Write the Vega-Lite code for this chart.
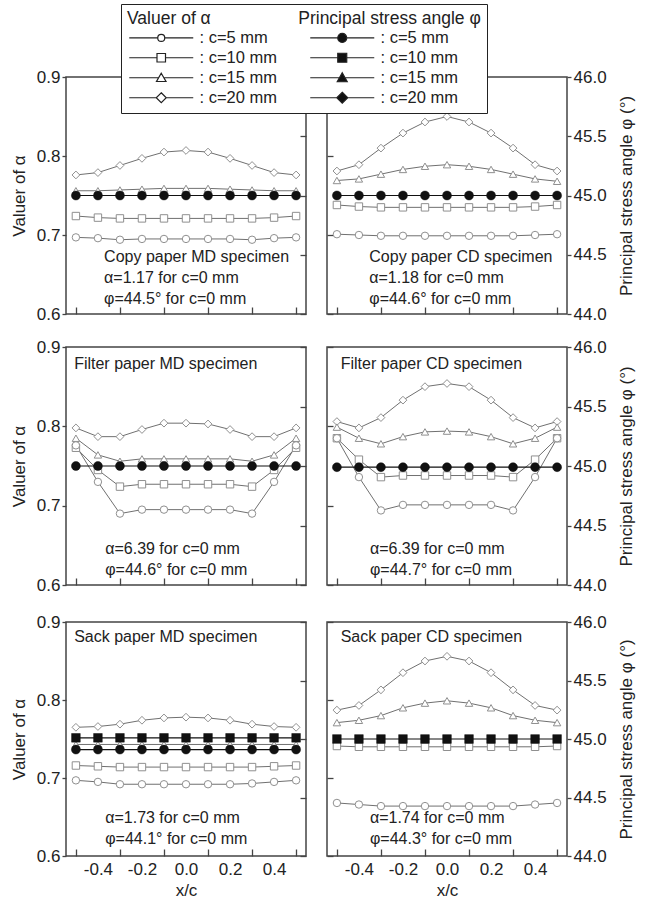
{
"$schema":"https://vega.github.io/schema/vega-lite/v6.json",
"background":"white",
"padding":{"left":9,"top":3,"right":5,"bottom":5},
"config":{
 "font":"Liberation Sans",
 "view":{"stroke":"#444","strokeWidth":1.5},
 "axis":{"grid":false,"domain":false,"tickColor":"#444","tickWidth":1.3,"labelFont":"Liberation Sans","labelFontSize":17,"labelColor":"#222","titleFont":"Liberation Sans","titleFontSize":17,"titleFontWeight":"normal","titleColor":"#222","labelOverlap":false,"labelFlush":false}
},
"data":{"values":[
{"p":"CM","s":"a20","x":-0.5,"v":0.776},{"p":"CM","s":"a20","x":-0.4,"v":0.779},{"p":"CM","s":"a20","x":-0.3,"v":0.788},{"p":"CM","s":"a20","x":-0.2,"v":0.797},{"p":"CM","s":"a20","x":-0.1,"v":0.805},{"p":"CM","s":"a20","x":0,"v":0.807},{"p":"CM","s":"a20","x":0.1,"v":0.805},{"p":"CM","s":"a20","x":0.2,"v":0.797},{"p":"CM","s":"a20","x":0.3,"v":0.788},{"p":"CM","s":"a20","x":0.4,"v":0.779},{"p":"CM","s":"a20","x":0.5,"v":0.776},
{"p":"CM","s":"a15","x":-0.5,"v":0.756},{"p":"CM","s":"a15","x":-0.4,"v":0.756},{"p":"CM","s":"a15","x":-0.3,"v":0.757},{"p":"CM","s":"a15","x":-0.2,"v":0.758},{"p":"CM","s":"a15","x":-0.1,"v":0.759},{"p":"CM","s":"a15","x":0,"v":0.759},{"p":"CM","s":"a15","x":0.1,"v":0.759},{"p":"CM","s":"a15","x":0.2,"v":0.758},{"p":"CM","s":"a15","x":0.3,"v":0.757},{"p":"CM","s":"a15","x":0.4,"v":0.756},{"p":"CM","s":"a15","x":0.5,"v":0.756},
{"p":"CM","s":"a10","x":-0.5,"v":0.724},{"p":"CM","s":"a10","x":-0.4,"v":0.722},{"p":"CM","s":"a10","x":-0.3,"v":0.721},{"p":"CM","s":"a10","x":-0.2,"v":0.721},{"p":"CM","s":"a10","x":-0.1,"v":0.721},{"p":"CM","s":"a10","x":0,"v":0.721},{"p":"CM","s":"a10","x":0.1,"v":0.721},{"p":"CM","s":"a10","x":0.2,"v":0.721},{"p":"CM","s":"a10","x":0.3,"v":0.721},{"p":"CM","s":"a10","x":0.4,"v":0.722},{"p":"CM","s":"a10","x":0.5,"v":0.724},
{"p":"CM","s":"a5","x":-0.5,"v":0.697},{"p":"CM","s":"a5","x":-0.4,"v":0.696},{"p":"CM","s":"a5","x":-0.3,"v":0.694},{"p":"CM","s":"a5","x":-0.2,"v":0.695},{"p":"CM","s":"a5","x":-0.1,"v":0.695},{"p":"CM","s":"a5","x":0,"v":0.695},{"p":"CM","s":"a5","x":0.1,"v":0.695},{"p":"CM","s":"a5","x":0.2,"v":0.695},{"p":"CM","s":"a5","x":0.3,"v":0.694},{"p":"CM","s":"a5","x":0.4,"v":0.696},{"p":"CM","s":"a5","x":0.5,"v":0.697},
{"p":"CM","s":"p5","x":-0.5,"v":45},{"p":"CM","s":"p5","x":-0.4,"v":45},{"p":"CM","s":"p5","x":-0.3,"v":45},{"p":"CM","s":"p5","x":-0.2,"v":45},{"p":"CM","s":"p5","x":-0.1,"v":45},{"p":"CM","s":"p5","x":0,"v":45},{"p":"CM","s":"p5","x":0.1,"v":45},{"p":"CM","s":"p5","x":0.2,"v":45},{"p":"CM","s":"p5","x":0.3,"v":45},{"p":"CM","s":"p5","x":0.4,"v":45},{"p":"CM","s":"p5","x":0.5,"v":45},
{"p":"CC","s":"a20","x":-0.5,"v":0.781},{"p":"CC","s":"a20","x":-0.4,"v":0.789},{"p":"CC","s":"a20","x":-0.3,"v":0.810},{"p":"CC","s":"a20","x":-0.2,"v":0.829},{"p":"CC","s":"a20","x":-0.1,"v":0.843},{"p":"CC","s":"a20","x":0,"v":0.850},{"p":"CC","s":"a20","x":0.1,"v":0.843},{"p":"CC","s":"a20","x":0.2,"v":0.829},{"p":"CC","s":"a20","x":0.3,"v":0.810},{"p":"CC","s":"a20","x":0.4,"v":0.789},{"p":"CC","s":"a20","x":0.5,"v":0.781},
{"p":"CC","s":"a15","x":-0.5,"v":0.769},{"p":"CC","s":"a15","x":-0.4,"v":0.771},{"p":"CC","s":"a15","x":-0.3,"v":0.777},{"p":"CC","s":"a15","x":-0.2,"v":0.783},{"p":"CC","s":"a15","x":-0.1,"v":0.787},{"p":"CC","s":"a15","x":0,"v":0.789},{"p":"CC","s":"a15","x":0.1,"v":0.787},{"p":"CC","s":"a15","x":0.2,"v":0.783},{"p":"CC","s":"a15","x":0.3,"v":0.777},{"p":"CC","s":"a15","x":0.4,"v":0.771},{"p":"CC","s":"a15","x":0.5,"v":0.768},
{"p":"CC","s":"a10","x":-0.5,"v":0.738},{"p":"CC","s":"a10","x":-0.4,"v":0.736},{"p":"CC","s":"a10","x":-0.3,"v":0.735},{"p":"CC","s":"a10","x":-0.2,"v":0.735},{"p":"CC","s":"a10","x":-0.1,"v":0.735},{"p":"CC","s":"a10","x":0,"v":0.735},{"p":"CC","s":"a10","x":0.1,"v":0.735},{"p":"CC","s":"a10","x":0.2,"v":0.735},{"p":"CC","s":"a10","x":0.3,"v":0.735},{"p":"CC","s":"a10","x":0.4,"v":0.736},{"p":"CC","s":"a10","x":0.5,"v":0.738},
{"p":"CC","s":"a5","x":-0.5,"v":0.701},{"p":"CC","s":"a5","x":-0.4,"v":0.700},{"p":"CC","s":"a5","x":-0.3,"v":0.699},{"p":"CC","s":"a5","x":-0.2,"v":0.699},{"p":"CC","s":"a5","x":-0.1,"v":0.699},{"p":"CC","s":"a5","x":0,"v":0.699},{"p":"CC","s":"a5","x":0.1,"v":0.699},{"p":"CC","s":"a5","x":0.2,"v":0.699},{"p":"CC","s":"a5","x":0.3,"v":0.699},{"p":"CC","s":"a5","x":0.4,"v":0.700},{"p":"CC","s":"a5","x":0.5,"v":0.701},
{"p":"CC","s":"p5","x":-0.5,"v":45},{"p":"CC","s":"p5","x":-0.4,"v":45},{"p":"CC","s":"p5","x":-0.3,"v":45},{"p":"CC","s":"p5","x":-0.2,"v":45},{"p":"CC","s":"p5","x":-0.1,"v":45},{"p":"CC","s":"p5","x":0,"v":45},{"p":"CC","s":"p5","x":0.1,"v":45},{"p":"CC","s":"p5","x":0.2,"v":45},{"p":"CC","s":"p5","x":0.3,"v":45},{"p":"CC","s":"p5","x":0.4,"v":45},{"p":"CC","s":"p5","x":0.5,"v":45},
{"p":"FM","s":"a20","x":-0.5,"v":0.798},{"p":"FM","s":"a20","x":-0.4,"v":0.787},{"p":"FM","s":"a20","x":-0.3,"v":0.787},{"p":"FM","s":"a20","x":-0.2,"v":0.796},{"p":"FM","s":"a20","x":-0.1,"v":0.804},{"p":"FM","s":"a20","x":0,"v":0.804},{"p":"FM","s":"a20","x":0.1,"v":0.803},{"p":"FM","s":"a20","x":0.2,"v":0.796},{"p":"FM","s":"a20","x":0.3,"v":0.787},{"p":"FM","s":"a20","x":0.4,"v":0.787},{"p":"FM","s":"a20","x":0.5,"v":0.798},
{"p":"FM","s":"a15","x":-0.5,"v":0.785},{"p":"FM","s":"a15","x":-0.4,"v":0.764},{"p":"FM","s":"a15","x":-0.3,"v":0.756},{"p":"FM","s":"a15","x":-0.2,"v":0.759},{"p":"FM","s":"a15","x":-0.1,"v":0.759},{"p":"FM","s":"a15","x":0,"v":0.759},{"p":"FM","s":"a15","x":0.1,"v":0.759},{"p":"FM","s":"a15","x":0.2,"v":0.759},{"p":"FM","s":"a15","x":0.3,"v":0.756},{"p":"FM","s":"a15","x":0.4,"v":0.764},{"p":"FM","s":"a15","x":0.5,"v":0.785},
{"p":"FM","s":"a10","x":-0.5,"v":0.773},{"p":"FM","s":"a10","x":-0.4,"v":0.745},{"p":"FM","s":"a10","x":-0.3,"v":0.724},{"p":"FM","s":"a10","x":-0.2,"v":0.727},{"p":"FM","s":"a10","x":-0.1,"v":0.727},{"p":"FM","s":"a10","x":0,"v":0.727},{"p":"FM","s":"a10","x":0.1,"v":0.727},{"p":"FM","s":"a10","x":0.2,"v":0.727},{"p":"FM","s":"a10","x":0.3,"v":0.724},{"p":"FM","s":"a10","x":0.4,"v":0.745},{"p":"FM","s":"a10","x":0.5,"v":0.773},
{"p":"FM","s":"a5","x":-0.5,"v":0.776},{"p":"FM","s":"a5","x":-0.4,"v":0.730},{"p":"FM","s":"a5","x":-0.3,"v":0.690},{"p":"FM","s":"a5","x":-0.2,"v":0.695},{"p":"FM","s":"a5","x":-0.1,"v":0.695},{"p":"FM","s":"a5","x":0,"v":0.695},{"p":"FM","s":"a5","x":0.1,"v":0.695},{"p":"FM","s":"a5","x":0.2,"v":0.695},{"p":"FM","s":"a5","x":0.3,"v":0.690},{"p":"FM","s":"a5","x":0.4,"v":0.730},{"p":"FM","s":"a5","x":0.5,"v":0.776},
{"p":"FM","s":"p5","x":-0.5,"v":45},{"p":"FM","s":"p5","x":-0.4,"v":45},{"p":"FM","s":"p5","x":-0.3,"v":45},{"p":"FM","s":"p5","x":-0.2,"v":45},{"p":"FM","s":"p5","x":-0.1,"v":45},{"p":"FM","s":"p5","x":0,"v":45},{"p":"FM","s":"p5","x":0.1,"v":45},{"p":"FM","s":"p5","x":0.2,"v":45},{"p":"FM","s":"p5","x":0.3,"v":45},{"p":"FM","s":"p5","x":0.4,"v":45},{"p":"FM","s":"p5","x":0.5,"v":45},
{"p":"FC","s":"a20","x":-0.5,"v":0.806},{"p":"FC","s":"a20","x":-0.4,"v":0.798},{"p":"FC","s":"a20","x":-0.3,"v":0.811},{"p":"FC","s":"a20","x":-0.2,"v":0.833},{"p":"FC","s":"a20","x":-0.1,"v":0.850},{"p":"FC","s":"a20","x":0,"v":0.854},{"p":"FC","s":"a20","x":0.1,"v":0.850},{"p":"FC","s":"a20","x":0.2,"v":0.833},{"p":"FC","s":"a20","x":0.3,"v":0.811},{"p":"FC","s":"a20","x":0.4,"v":0.798},{"p":"FC","s":"a20","x":0.5,"v":0.806},
{"p":"FC","s":"a15","x":-0.5,"v":0.799},{"p":"FC","s":"a15","x":-0.4,"v":0.785},{"p":"FC","s":"a15","x":-0.3,"v":0.778},{"p":"FC","s":"a15","x":-0.2,"v":0.787},{"p":"FC","s":"a15","x":-0.1,"v":0.793},{"p":"FC","s":"a15","x":0,"v":0.794},{"p":"FC","s":"a15","x":0.1,"v":0.793},{"p":"FC","s":"a15","x":0.2,"v":0.787},{"p":"FC","s":"a15","x":0.3,"v":0.778},{"p":"FC","s":"a15","x":0.4,"v":0.785},{"p":"FC","s":"a15","x":0.5,"v":0.799},
{"p":"FC","s":"a10","x":-0.5,"v":0.785},{"p":"FC","s":"a10","x":-0.4,"v":0.758},{"p":"FC","s":"a10","x":-0.3,"v":0.736},{"p":"FC","s":"a10","x":-0.2,"v":0.738},{"p":"FC","s":"a10","x":-0.1,"v":0.738},{"p":"FC","s":"a10","x":0,"v":0.738},{"p":"FC","s":"a10","x":0.1,"v":0.738},{"p":"FC","s":"a10","x":0.2,"v":0.738},{"p":"FC","s":"a10","x":0.3,"v":0.736},{"p":"FC","s":"a10","x":0.4,"v":0.758},{"p":"FC","s":"a10","x":0.5,"v":0.785},
{"p":"FC","s":"a5","x":-0.5,"v":0.785},{"p":"FC","s":"a5","x":-0.4,"v":0.736},{"p":"FC","s":"a5","x":-0.3,"v":0.694},{"p":"FC","s":"a5","x":-0.2,"v":0.701},{"p":"FC","s":"a5","x":-0.1,"v":0.701},{"p":"FC","s":"a5","x":0,"v":0.701},{"p":"FC","s":"a5","x":0.1,"v":0.701},{"p":"FC","s":"a5","x":0.2,"v":0.701},{"p":"FC","s":"a5","x":0.3,"v":0.694},{"p":"FC","s":"a5","x":0.4,"v":0.736},{"p":"FC","s":"a5","x":0.5,"v":0.785},
{"p":"FC","s":"p5","x":-0.5,"v":44.99},{"p":"FC","s":"p5","x":-0.4,"v":44.99},{"p":"FC","s":"p5","x":-0.3,"v":44.99},{"p":"FC","s":"p5","x":-0.2,"v":44.99},{"p":"FC","s":"p5","x":-0.1,"v":44.99},{"p":"FC","s":"p5","x":0,"v":44.99},{"p":"FC","s":"p5","x":0.1,"v":44.99},{"p":"FC","s":"p5","x":0.2,"v":44.99},{"p":"FC","s":"p5","x":0.3,"v":44.99},{"p":"FC","s":"p5","x":0.4,"v":44.99},{"p":"FC","s":"p5","x":0.5,"v":44.99},
{"p":"SM","s":"a20","x":-0.5,"v":0.765},{"p":"SM","s":"a20","x":-0.4,"v":0.766},{"p":"SM","s":"a20","x":-0.3,"v":0.769},{"p":"SM","s":"a20","x":-0.2,"v":0.774},{"p":"SM","s":"a20","x":-0.1,"v":0.777},{"p":"SM","s":"a20","x":0,"v":0.778},{"p":"SM","s":"a20","x":0.1,"v":0.777},{"p":"SM","s":"a20","x":0.2,"v":0.774},{"p":"SM","s":"a20","x":0.3,"v":0.769},{"p":"SM","s":"a20","x":0.4,"v":0.766},{"p":"SM","s":"a20","x":0.5,"v":0.765},
{"p":"SM","s":"a15","x":-0.5,"v":0.743},{"p":"SM","s":"a15","x":-0.4,"v":0.743},{"p":"SM","s":"a15","x":-0.3,"v":0.743},{"p":"SM","s":"a15","x":-0.2,"v":0.743},{"p":"SM","s":"a15","x":-0.1,"v":0.743},{"p":"SM","s":"a15","x":0,"v":0.743},{"p":"SM","s":"a15","x":0.1,"v":0.743},{"p":"SM","s":"a15","x":0.2,"v":0.743},{"p":"SM","s":"a15","x":0.3,"v":0.743},{"p":"SM","s":"a15","x":0.4,"v":0.743},{"p":"SM","s":"a15","x":0.5,"v":0.743},
{"p":"SM","s":"a10","x":-0.5,"v":0.716},{"p":"SM","s":"a10","x":-0.4,"v":0.715},{"p":"SM","s":"a10","x":-0.3,"v":0.714},{"p":"SM","s":"a10","x":-0.2,"v":0.714},{"p":"SM","s":"a10","x":-0.1,"v":0.714},{"p":"SM","s":"a10","x":0,"v":0.714},{"p":"SM","s":"a10","x":0.1,"v":0.714},{"p":"SM","s":"a10","x":0.2,"v":0.714},{"p":"SM","s":"a10","x":0.3,"v":0.714},{"p":"SM","s":"a10","x":0.4,"v":0.715},{"p":"SM","s":"a10","x":0.5,"v":0.716},
{"p":"SM","s":"a5","x":-0.5,"v":0.697},{"p":"SM","s":"a5","x":-0.4,"v":0.695},{"p":"SM","s":"a5","x":-0.3,"v":0.692},{"p":"SM","s":"a5","x":-0.2,"v":0.692},{"p":"SM","s":"a5","x":-0.1,"v":0.692},{"p":"SM","s":"a5","x":0,"v":0.692},{"p":"SM","s":"a5","x":0.1,"v":0.692},{"p":"SM","s":"a5","x":0.2,"v":0.692},{"p":"SM","s":"a5","x":0.3,"v":0.693},{"p":"SM","s":"a5","x":0.4,"v":0.695},{"p":"SM","s":"a5","x":0.5,"v":0.697},
{"p":"SM","s":"p10","x":-0.5,"v":45.01},{"p":"SM","s":"p10","x":-0.4,"v":45.01},{"p":"SM","s":"p10","x":-0.3,"v":45.01},{"p":"SM","s":"p10","x":-0.2,"v":45.01},{"p":"SM","s":"p10","x":-0.1,"v":45.01},{"p":"SM","s":"p10","x":0,"v":45.01},{"p":"SM","s":"p10","x":0.1,"v":45.01},{"p":"SM","s":"p10","x":0.2,"v":45.01},{"p":"SM","s":"p10","x":0.3,"v":45.01},{"p":"SM","s":"p10","x":0.4,"v":45.01},{"p":"SM","s":"p10","x":0.5,"v":45.01},
{"p":"SM","s":"p5","x":-0.5,"v":44.91},{"p":"SM","s":"p5","x":-0.4,"v":44.91},{"p":"SM","s":"p5","x":-0.3,"v":44.91},{"p":"SM","s":"p5","x":-0.2,"v":44.91},{"p":"SM","s":"p5","x":-0.1,"v":44.91},{"p":"SM","s":"p5","x":0,"v":44.91},{"p":"SM","s":"p5","x":0.1,"v":44.91},{"p":"SM","s":"p5","x":0.2,"v":44.91},{"p":"SM","s":"p5","x":0.3,"v":44.91},{"p":"SM","s":"p5","x":0.4,"v":44.91},{"p":"SM","s":"p5","x":0.5,"v":44.91},
{"p":"SC","s":"a20","x":-0.5,"v":0.787},{"p":"SC","s":"a20","x":-0.4,"v":0.793},{"p":"SC","s":"a20","x":-0.3,"v":0.813},{"p":"SC","s":"a20","x":-0.2,"v":0.835},{"p":"SC","s":"a20","x":-0.1,"v":0.850},{"p":"SC","s":"a20","x":0,"v":0.856},{"p":"SC","s":"a20","x":0.1,"v":0.850},{"p":"SC","s":"a20","x":0.2,"v":0.835},{"p":"SC","s":"a20","x":0.3,"v":0.813},{"p":"SC","s":"a20","x":0.4,"v":0.793},{"p":"SC","s":"a20","x":0.5,"v":0.787},
{"p":"SC","s":"a15","x":-0.5,"v":0.771},{"p":"SC","s":"a15","x":-0.4,"v":0.774},{"p":"SC","s":"a15","x":-0.3,"v":0.780},{"p":"SC","s":"a15","x":-0.2,"v":0.790},{"p":"SC","s":"a15","x":-0.1,"v":0.796},{"p":"SC","s":"a15","x":0,"v":0.799},{"p":"SC","s":"a15","x":0.1,"v":0.796},{"p":"SC","s":"a15","x":0.2,"v":0.790},{"p":"SC","s":"a15","x":0.3,"v":0.780},{"p":"SC","s":"a15","x":0.4,"v":0.774},{"p":"SC","s":"a15","x":0.5,"v":0.771},
{"p":"SC","s":"a10","x":-0.5,"v":0.741},{"p":"SC","s":"a10","x":-0.4,"v":0.740},{"p":"SC","s":"a10","x":-0.3,"v":0.740},{"p":"SC","s":"a10","x":-0.2,"v":0.740},{"p":"SC","s":"a10","x":-0.1,"v":0.740},{"p":"SC","s":"a10","x":0,"v":0.740},{"p":"SC","s":"a10","x":0.1,"v":0.740},{"p":"SC","s":"a10","x":0.2,"v":0.740},{"p":"SC","s":"a10","x":0.3,"v":0.740},{"p":"SC","s":"a10","x":0.4,"v":0.740},{"p":"SC","s":"a10","x":0.5,"v":0.741},
{"p":"SC","s":"a5","x":-0.5,"v":0.668},{"p":"SC","s":"a5","x":-0.4,"v":0.666},{"p":"SC","s":"a5","x":-0.3,"v":0.664},{"p":"SC","s":"a5","x":-0.2,"v":0.664},{"p":"SC","s":"a5","x":-0.1,"v":0.664},{"p":"SC","s":"a5","x":0,"v":0.664},{"p":"SC","s":"a5","x":0.1,"v":0.664},{"p":"SC","s":"a5","x":0.2,"v":0.664},{"p":"SC","s":"a5","x":0.3,"v":0.664},{"p":"SC","s":"a5","x":0.4,"v":0.666},{"p":"SC","s":"a5","x":0.5,"v":0.668},
{"p":"SC","s":"p10","x":-0.5,"v":45},{"p":"SC","s":"p10","x":-0.4,"v":45},{"p":"SC","s":"p10","x":-0.3,"v":45},{"p":"SC","s":"p10","x":-0.2,"v":45},{"p":"SC","s":"p10","x":-0.1,"v":45},{"p":"SC","s":"p10","x":0,"v":45},{"p":"SC","s":"p10","x":0.1,"v":45},{"p":"SC","s":"p10","x":0.2,"v":45},{"p":"SC","s":"p10","x":0.3,"v":45},{"p":"SC","s":"p10","x":0.4,"v":45},{"p":"SC","s":"p10","x":0.5,"v":45}
]},
"spacing":14,
"vconcat":[
{"spacing":17,"hconcat":[
 {"width":240,"height":237,"resolve":{"scale":{"y":"independent"}},"layer":[
  {"layer":[
    {"transform":[{"filter":"datum.p=='CM' && substring(datum.s,0,1)=='a'"}],"mark":{"type":"line","stroke":"#707070","strokeWidth":1},
     "encoding":{"x":{"field":"x","type":"quantitative","scale":{"domain":[-0.545,0.545],"nice":false,"zero":false},"axis":{"values":[-0.5,-0.4,-0.3,-0.2,-0.1,0,0.1,0.2,0.3,0.4,0.5],"labels":false,"tickSize":-7,"title":null,"minExtent":0}},
      "y":{"field":"v","type":"quantitative","scale":{"domain":[0.6,0.9],"nice":false,"zero":false},"axis":{"orient":"left","values":[0.6,0.7,0.8,0.9],"format":".1f","tickSize":4,"labelPadding":2,"title":"Valuer of α","titlePadding":8}},
      "detail":{"field":"s","type":"nominal"}}},
    {"transform":[{"filter":"datum.p=='CM' && datum.s=='a20'"}],"mark":{"type":"point","shape":"diamond","filled":true,"fill":"white","stroke":"#8f8f8f","strokeWidth":1,"size":60,"opacity":1},"encoding":{"x":{"field":"x","type":"quantitative"},"y":{"field":"v","type":"quantitative","scale":{"domain":[0.6,0.9],"nice":false,"zero":false}}}},
    {"transform":[{"filter":"datum.p=='CM' && datum.s=='a15'"}],"mark":{"type":"point","shape":"triangle-up","filled":true,"fill":"white","stroke":"#8f8f8f","strokeWidth":1,"size":55,"opacity":1},"encoding":{"x":{"field":"x","type":"quantitative"},"y":{"field":"v","type":"quantitative","scale":{"domain":[0.6,0.9],"nice":false,"zero":false}}}},
    {"transform":[{"filter":"datum.p=='CM' && datum.s=='a10'"}],"mark":{"type":"point","shape":"square","filled":true,"fill":"white","stroke":"#8f8f8f","strokeWidth":1,"size":55,"opacity":1},"encoding":{"x":{"field":"x","type":"quantitative"},"y":{"field":"v","type":"quantitative","scale":{"domain":[0.6,0.9],"nice":false,"zero":false}}}},
    {"transform":[{"filter":"datum.p=='CM' && datum.s=='a5'"}],"mark":{"type":"point","shape":"circle","filled":true,"fill":"white","stroke":"#8f8f8f","strokeWidth":1,"size":55,"opacity":1},"encoding":{"x":{"field":"x","type":"quantitative"},"y":{"field":"v","type":"quantitative","scale":{"domain":[0.6,0.9],"nice":false,"zero":false}}}},
    {"transform":[{"filter":"datum.p=='none'"}],"mark":{"type":"point","filled":true,"stroke":"#222","strokeWidth":1.2,"size":100,"opacity":1},
     "encoding":{
      "shape":{"field":"s","type":"nominal","scale":{"domain":["a5","a10","a15","a20","p5","p10","p15","p20"],"range":[
        "M-6.4,0L-0.7,0M0.7,0L6.4,0M-0.7,0A0.7,0.7,0,1,1,0.7,0A0.7,0.7,0,1,1,-0.7,0Z",
        "M-6.4,0L-0.85,0M0.85,0L6.4,0M-0.85,-0.85L0.85,-0.85L0.85,0.85L-0.85,0.85Z",
        "M-6.4,0L-0.52,0M0.52,0L6.4,0M0,-0.9L0.95,0.75L-0.95,0.75Z",
        "M-6.4,0L-1,0M1,0L6.4,0M0,-1L1,0L0,1L-1,0Z",
        "M-6.4,0L-0.9,0M0.9,0L6.4,0M-0.9,0A0.9,0.9,0,1,1,0.9,0A0.9,0.9,0,1,1,-0.9,0Z",
        "M-6.4,0L-0.9,0M0.9,0L6.4,0M-0.9,-0.9L0.9,-0.9L0.9,0.9L-0.9,0.9Z",
        "M-6.4,0L-0.55,0M0.55,0L6.4,0M0,-1L1,0.8L-1,0.8Z",
        "M-6.4,0L-1.1,0M1.1,0L6.4,0M0,-1.1L1.1,0L0,1.1L-1.1,0Z"]},
       "legend":{"orient":"none","legendX":55,"legendY":-73,"columns":2,
        "title":"Valuer of α\u00a0\u00a0\u00a0\u00a0\u00a0\u00a0\u00a0\u00a0\u00a0\u00a0\u00a0\u00a0\u00a0\u00a0\u00a0\u00a0\u00a0\u00a0Principal stress angle φ","titleLimit":600,
        "titleFont":"Liberation Sans","titleFontSize":17.5,"titleFontWeight":"normal","titleColor":"#222","titlePadding":2,
        "labelFont":"Liberation Sans","labelFontSize":16.5,"labelColor":"#222","labelExpr":"': c=' + substring(datum.label,1) + ' mm'",
        "symbolSize":100,"symbolStrokeColor":"#222","symbolStrokeWidth":1.2,"symbolOpacity":1,"symbolOffset":26,"labelOffset":30,"columnPadding":30,"rowPadding":3,"padding":6,"strokeColor":"#222","fillColor":"white"}},
      "fill":{"field":"s","type":"nominal","scale":{"domain":["a5","a10","a15","a20","p5","p10","p15","p20"],"range":["white","white","white","white","#111","#111","#111","#111"]},"legend":null},
      "stroke":{"field":"s","type":"nominal","scale":{"domain":["a5","a10","a15","a20","p5","p10","p15","p20"],"range":["#222","#222","#222","#222","#222","#222","#222","#222"]},"legend":null}}},
    {"data":{"values":[{}]},"mark":{"type":"text","align":"left","baseline":"alphabetic","font":"Liberation Sans","fontSize":16,"lineHeight":21,"color":"#222"},"encoding":{"x":{"datum":-0.372,"type":"quantitative"},"y":{"datum":0.666,"type":"quantitative"},"text":{"value":["Copy paper MD specimen","α=1.17 for c=0 mm","φ=44.5° for c=0 mm"]}}}
  ]},
  {"layer":[
    {"transform":[{"filter":"datum.p=='CM' && substring(datum.s,0,1)=='p'"}],"mark":{"type":"line","stroke":"#111","strokeWidth":1.2},
     "encoding":{"x":{"field":"x","type":"quantitative"},
      "y":{"field":"v","type":"quantitative","scale":{"domain":[44,46],"nice":false,"zero":false},"axis":{"orient":"right","values":[44,44.5,45,45.5,46],"labels":false,"tickSize":-6,"title":null,"minExtent":0}},
      "detail":{"field":"s","type":"nominal"}}},
    {"transform":[{"filter":"datum.p=='CM' && datum.s=='p5'"}],"mark":{"type":"point","shape":"circle","filled":true,"fill":"#111","stroke":"#111","strokeWidth":0.5,"size":80,"opacity":1},"encoding":{"x":{"field":"x","type":"quantitative"},"y":{"field":"v","type":"quantitative","scale":{"domain":[44,46],"nice":false,"zero":false}}}}
  ]}
 ]},
 {"width":240,"height":237,"resolve":{"scale":{"y":"independent"}},"layer":[
  {"layer":[
    {"transform":[{"filter":"datum.p=='CC' && substring(datum.s,0,1)=='a'"}],"mark":{"type":"line","stroke":"#707070","strokeWidth":1},
     "encoding":{"x":{"field":"x","type":"quantitative","scale":{"domain":[-0.545,0.545],"nice":false,"zero":false},"axis":{"values":[-0.5,-0.4,-0.3,-0.2,-0.1,0,0.1,0.2,0.3,0.4,0.5],"labels":false,"tickSize":-7,"title":null,"minExtent":0}},
      "y":{"field":"v","type":"quantitative","scale":{"domain":[0.6,0.9],"nice":false,"zero":false},"axis":{"orient":"left","values":[0.6,0.7,0.8,0.9],"labels":false,"tickSize":-6,"title":null,"minExtent":0}},
      "detail":{"field":"s","type":"nominal"}}},
    {"transform":[{"filter":"datum.p=='CC' && datum.s=='a20'"}],"mark":{"type":"point","shape":"diamond","filled":true,"fill":"white","stroke":"#8f8f8f","strokeWidth":1,"size":60,"opacity":1},"encoding":{"x":{"field":"x","type":"quantitative"},"y":{"field":"v","type":"quantitative","scale":{"domain":[0.6,0.9],"nice":false,"zero":false}}}},
    {"transform":[{"filter":"datum.p=='CC' && datum.s=='a15'"}],"mark":{"type":"point","shape":"triangle-up","filled":true,"fill":"white","stroke":"#8f8f8f","strokeWidth":1,"size":55,"opacity":1},"encoding":{"x":{"field":"x","type":"quantitative"},"y":{"field":"v","type":"quantitative","scale":{"domain":[0.6,0.9],"nice":false,"zero":false}}}},
    {"transform":[{"filter":"datum.p=='CC' && datum.s=='a10'"}],"mark":{"type":"point","shape":"square","filled":true,"fill":"white","stroke":"#8f8f8f","strokeWidth":1,"size":55,"opacity":1},"encoding":{"x":{"field":"x","type":"quantitative"},"y":{"field":"v","type":"quantitative","scale":{"domain":[0.6,0.9],"nice":false,"zero":false}}}},
    {"transform":[{"filter":"datum.p=='CC' && datum.s=='a5'"}],"mark":{"type":"point","shape":"circle","filled":true,"fill":"white","stroke":"#8f8f8f","strokeWidth":1,"size":55,"opacity":1},"encoding":{"x":{"field":"x","type":"quantitative"},"y":{"field":"v","type":"quantitative","scale":{"domain":[0.6,0.9],"nice":false,"zero":false}}}},
    {"data":{"values":[{}]},"mark":{"type":"text","align":"left","baseline":"alphabetic","font":"Liberation Sans","fontSize":16,"lineHeight":21,"color":"#222"},"encoding":{"x":{"datum":-0.353,"type":"quantitative"},"y":{"datum":0.666,"type":"quantitative"},"text":{"value":["Copy paper CD specimen","α=1.18 for c=0 mm","φ=44.6° for c=0 mm"]}}}
  ]},
  {"layer":[
    {"transform":[{"filter":"datum.p=='CC' && substring(datum.s,0,1)=='p'"}],"mark":{"type":"line","stroke":"#111","strokeWidth":1.2},
     "encoding":{"x":{"field":"x","type":"quantitative"},
      "y":{"field":"v","type":"quantitative","scale":{"domain":[44,46],"nice":false,"zero":false},"axis":{"orient":"right","values":[44,44.5,45,45.5,46],"format":".1f","tickSize":4,"labelPadding":2,"title":"Principal stress angle φ (°)","titleAngle":270,"titleBaseline":"top","titlePadding":12}},
      "detail":{"field":"s","type":"nominal"}}},
    {"transform":[{"filter":"datum.p=='CC' && datum.s=='p5'"}],"mark":{"type":"point","shape":"circle","filled":true,"fill":"#111","stroke":"#111","strokeWidth":0.5,"size":80,"opacity":1},"encoding":{"x":{"field":"x","type":"quantitative"},"y":{"field":"v","type":"quantitative","scale":{"domain":[44,46],"nice":false,"zero":false}}}}
  ]}
 ]}
]},
{"spacing":18,"vconcat":[
{"spacing":17,"hconcat":[
 {"width":240,"height":238,"resolve":{"scale":{"y":"independent"}},"layer":[
  {"layer":[
    {"transform":[{"filter":"datum.p=='FM' && substring(datum.s,0,1)=='a'"}],"mark":{"type":"line","stroke":"#707070","strokeWidth":1},
     "encoding":{"x":{"field":"x","type":"quantitative","scale":{"domain":[-0.545,0.545],"nice":false,"zero":false},"axis":{"values":[-0.5,-0.4,-0.3,-0.2,-0.1,0,0.1,0.2,0.3,0.4,0.5],"labels":false,"tickSize":-7,"title":null,"minExtent":0}},
      "y":{"field":"v","type":"quantitative","scale":{"domain":[0.6,0.9],"nice":false,"zero":false},"axis":{"orient":"left","values":[0.6,0.7,0.8,0.9],"format":".1f","tickSize":4,"labelPadding":2,"title":"Valuer of α","titlePadding":8}},
      "detail":{"field":"s","type":"nominal"}}},
    {"transform":[{"filter":"datum.p=='FM' && datum.s=='a20'"}],"mark":{"type":"point","shape":"diamond","filled":true,"fill":"white","stroke":"#8f8f8f","strokeWidth":1,"size":60,"opacity":1},"encoding":{"x":{"field":"x","type":"quantitative"},"y":{"field":"v","type":"quantitative","scale":{"domain":[0.6,0.9],"nice":false,"zero":false}}}},
    {"transform":[{"filter":"datum.p=='FM' && datum.s=='a15'"}],"mark":{"type":"point","shape":"triangle-up","filled":true,"fill":"white","stroke":"#8f8f8f","strokeWidth":1,"size":55,"opacity":1},"encoding":{"x":{"field":"x","type":"quantitative"},"y":{"field":"v","type":"quantitative","scale":{"domain":[0.6,0.9],"nice":false,"zero":false}}}},
    {"transform":[{"filter":"datum.p=='FM' && datum.s=='a10'"}],"mark":{"type":"point","shape":"square","filled":true,"fill":"white","stroke":"#8f8f8f","strokeWidth":1,"size":55,"opacity":1},"encoding":{"x":{"field":"x","type":"quantitative"},"y":{"field":"v","type":"quantitative","scale":{"domain":[0.6,0.9],"nice":false,"zero":false}}}},
    {"transform":[{"filter":"datum.p=='FM' && datum.s=='a5'"}],"mark":{"type":"point","shape":"circle","filled":true,"fill":"white","stroke":"#8f8f8f","strokeWidth":1,"size":55,"opacity":1},"encoding":{"x":{"field":"x","type":"quantitative"},"y":{"field":"v","type":"quantitative","scale":{"domain":[0.6,0.9],"nice":false,"zero":false}}}},
    {"data":{"values":[{}]},"mark":{"type":"text","align":"left","baseline":"alphabetic","font":"Liberation Sans","fontSize":16,"color":"#222"},"encoding":{"x":{"datum":-0.508,"type":"quantitative"},"y":{"datum":0.872,"type":"quantitative"},"text":{"value":"Filter paper MD specimen"}}},
    {"data":{"values":[{}]},"mark":{"type":"text","align":"left","baseline":"alphabetic","font":"Liberation Sans","fontSize":16,"lineHeight":21,"color":"#222"},"encoding":{"x":{"datum":-0.367,"type":"quantitative"},"y":{"datum":0.639,"type":"quantitative"},"text":{"value":["α=6.39 for c=0 mm","φ=44.6° for c=0 mm"]}}}
  ]},
  {"layer":[
    {"transform":[{"filter":"datum.p=='FM' && substring(datum.s,0,1)=='p'"}],"mark":{"type":"line","stroke":"#111","strokeWidth":1.2},
     "encoding":{"x":{"field":"x","type":"quantitative"},
      "y":{"field":"v","type":"quantitative","scale":{"domain":[44,46],"nice":false,"zero":false},"axis":{"orient":"right","values":[44,44.5,45,45.5,46],"labels":false,"tickSize":-6,"title":null,"minExtent":0}},
      "detail":{"field":"s","type":"nominal"}}},
    {"transform":[{"filter":"datum.p=='FM' && datum.s=='p5'"}],"mark":{"type":"point","shape":"circle","filled":true,"fill":"#111","stroke":"#111","strokeWidth":0.5,"size":80,"opacity":1},"encoding":{"x":{"field":"x","type":"quantitative"},"y":{"field":"v","type":"quantitative","scale":{"domain":[44,46],"nice":false,"zero":false}}}}
  ]}
 ]},
 {"width":240,"height":238,"resolve":{"scale":{"y":"independent"}},"layer":[
  {"layer":[
    {"transform":[{"filter":"datum.p=='FC' && substring(datum.s,0,1)=='a'"}],"mark":{"type":"line","stroke":"#707070","strokeWidth":1},
     "encoding":{"x":{"field":"x","type":"quantitative","scale":{"domain":[-0.545,0.545],"nice":false,"zero":false},"axis":{"values":[-0.5,-0.4,-0.3,-0.2,-0.1,0,0.1,0.2,0.3,0.4,0.5],"labels":false,"tickSize":-7,"title":null,"minExtent":0}},
      "y":{"field":"v","type":"quantitative","scale":{"domain":[0.6,0.9],"nice":false,"zero":false},"axis":{"orient":"left","values":[0.6,0.7,0.8,0.9],"labels":false,"tickSize":-6,"title":null,"minExtent":0}},
      "detail":{"field":"s","type":"nominal"}}},
    {"transform":[{"filter":"datum.p=='FC' && datum.s=='a20'"}],"mark":{"type":"point","shape":"diamond","filled":true,"fill":"white","stroke":"#8f8f8f","strokeWidth":1,"size":60,"opacity":1},"encoding":{"x":{"field":"x","type":"quantitative"},"y":{"field":"v","type":"quantitative","scale":{"domain":[0.6,0.9],"nice":false,"zero":false}}}},
    {"transform":[{"filter":"datum.p=='FC' && datum.s=='a15'"}],"mark":{"type":"point","shape":"triangle-up","filled":true,"fill":"white","stroke":"#8f8f8f","strokeWidth":1,"size":55,"opacity":1},"encoding":{"x":{"field":"x","type":"quantitative"},"y":{"field":"v","type":"quantitative","scale":{"domain":[0.6,0.9],"nice":false,"zero":false}}}},
    {"transform":[{"filter":"datum.p=='FC' && datum.s=='a10'"}],"mark":{"type":"point","shape":"square","filled":true,"fill":"white","stroke":"#8f8f8f","strokeWidth":1,"size":55,"opacity":1},"encoding":{"x":{"field":"x","type":"quantitative"},"y":{"field":"v","type":"quantitative","scale":{"domain":[0.6,0.9],"nice":false,"zero":false}}}},
    {"transform":[{"filter":"datum.p=='FC' && datum.s=='a5'"}],"mark":{"type":"point","shape":"circle","filled":true,"fill":"white","stroke":"#8f8f8f","strokeWidth":1,"size":55,"opacity":1},"encoding":{"x":{"field":"x","type":"quantitative"},"y":{"field":"v","type":"quantitative","scale":{"domain":[0.6,0.9],"nice":false,"zero":false}}}},
    {"data":{"values":[{}]},"mark":{"type":"text","align":"left","baseline":"alphabetic","font":"Liberation Sans","fontSize":16,"color":"#222"},"encoding":{"x":{"datum":-0.483,"type":"quantitative"},"y":{"datum":0.872,"type":"quantitative"},"text":{"value":"Filter paper CD specimen"}}},
    {"data":{"values":[{}]},"mark":{"type":"text","align":"left","baseline":"alphabetic","font":"Liberation Sans","fontSize":16,"lineHeight":21,"color":"#222"},"encoding":{"x":{"datum":-0.35,"type":"quantitative"},"y":{"datum":0.639,"type":"quantitative"},"text":{"value":["α=6.39 for c=0 mm","φ=44.7° for c=0 mm"]}}}
  ]},
  {"layer":[
    {"transform":[{"filter":"datum.p=='FC' && substring(datum.s,0,1)=='p'"}],"mark":{"type":"line","stroke":"#111","strokeWidth":1.2},
     "encoding":{"x":{"field":"x","type":"quantitative"},
      "y":{"field":"v","type":"quantitative","scale":{"domain":[44,46],"nice":false,"zero":false},"axis":{"orient":"right","values":[44,44.5,45,45.5,46],"format":".1f","tickSize":4,"labelPadding":2,"title":"Principal stress angle φ (°)","titleAngle":270,"titleBaseline":"top","titlePadding":12}},
      "detail":{"field":"s","type":"nominal"}}},
    {"transform":[{"filter":"datum.p=='FC' && datum.s=='p5'"}],"mark":{"type":"point","shape":"circle","filled":true,"fill":"#111","stroke":"#111","strokeWidth":0.5,"size":80,"opacity":1},"encoding":{"x":{"field":"x","type":"quantitative"},"y":{"field":"v","type":"quantitative","scale":{"domain":[44,46],"nice":false,"zero":false}}}}
  ]}
 ]}
]},
{"spacing":17,"hconcat":[
 {"width":240,"height":234,"resolve":{"scale":{"y":"independent"},"axis":{"x":"independent"}},"layer":[
  {"layer":[
    {"transform":[{"filter":"datum.p=='SM' && substring(datum.s,0,1)=='a'"}],"mark":{"type":"line","stroke":"#707070","strokeWidth":1},
     "encoding":{"x":{"field":"x","type":"quantitative","scale":{"domain":[-0.545,0.545],"nice":false,"zero":false},"axis":{"orient":"bottom","values":[-0.5,-0.4,-0.3,-0.2,-0.1,0,0.1,0.2,0.3,0.4,0.5],"labels":false,"tickSize":-7,"title":null,"minExtent":0}},
      "y":{"field":"v","type":"quantitative","scale":{"domain":[0.6,0.9],"nice":false,"zero":false},"axis":{"orient":"left","values":[0.6,0.7,0.8,0.9],"format":".1f","tickSize":4,"labelPadding":2,"title":"Valuer of α","titlePadding":8}},
      "detail":{"field":"s","type":"nominal"}}},
    {"transform":[{"filter":"datum.p=='SM' && datum.s=='a20'"}],"mark":{"type":"point","shape":"diamond","filled":true,"fill":"white","stroke":"#8f8f8f","strokeWidth":1,"size":60,"opacity":1},"encoding":{"x":{"field":"x","type":"quantitative"},"y":{"field":"v","type":"quantitative","scale":{"domain":[0.6,0.9],"nice":false,"zero":false}}}},
    {"transform":[{"filter":"datum.p=='SM' && datum.s=='a15'"}],"mark":{"type":"point","shape":"triangle-up","filled":true,"fill":"white","stroke":"#8f8f8f","strokeWidth":1,"size":55,"opacity":1},"encoding":{"x":{"field":"x","type":"quantitative"},"y":{"field":"v","type":"quantitative","scale":{"domain":[0.6,0.9],"nice":false,"zero":false}}}},
    {"transform":[{"filter":"datum.p=='SM' && datum.s=='a10'"}],"mark":{"type":"point","shape":"square","filled":true,"fill":"white","stroke":"#8f8f8f","strokeWidth":1,"size":55,"opacity":1},"encoding":{"x":{"field":"x","type":"quantitative"},"y":{"field":"v","type":"quantitative","scale":{"domain":[0.6,0.9],"nice":false,"zero":false}}}},
    {"transform":[{"filter":"datum.p=='SM' && datum.s=='a5'"}],"mark":{"type":"point","shape":"circle","filled":true,"fill":"white","stroke":"#8f8f8f","strokeWidth":1,"size":55,"opacity":1},"encoding":{"x":{"field":"x","type":"quantitative"},"y":{"field":"v","type":"quantitative","scale":{"domain":[0.6,0.9],"nice":false,"zero":false}}}},
    {"data":{"values":[{}]},"mark":{"type":"text","align":"left","baseline":"alphabetic","font":"Liberation Sans","fontSize":16,"color":"#222"},"encoding":{"x":{"datum":-0.508,"type":"quantitative"},"y":{"datum":0.874,"type":"quantitative"},"text":{"value":"Sack paper MD specimen"}}},
    {"data":{"values":[{}]},"mark":{"type":"text","align":"left","baseline":"alphabetic","font":"Liberation Sans","fontSize":16,"lineHeight":21,"color":"#222"},"encoding":{"x":{"datum":-0.367,"type":"quantitative"},"y":{"datum":0.642,"type":"quantitative"},"text":{"value":["α=1.73 for c=0 mm","φ=44.1° for c=0 mm"]}}}
  ]},
  {"layer":[
    {"transform":[{"filter":"datum.p=='SM' && substring(datum.s,0,1)=='p'"}],"mark":{"type":"line","stroke":"#111","strokeWidth":1.2},
     "encoding":{"x":{"field":"x","type":"quantitative","axis":{"orient":"bottom","values":[-0.4,-0.2,0,0.2,0.4],"ticks":false,"labelPadding":5,"labelExpr":"replace(datum.label,'−','-')","title":"x/c","titlePadding":5}},
      "y":{"field":"v","type":"quantitative","scale":{"domain":[44,46],"nice":false,"zero":false},"axis":{"orient":"right","values":[44,44.5,45,45.5,46],"labels":false,"tickSize":-6,"title":null,"minExtent":0}},
      "detail":{"field":"s","type":"nominal"}}},
    {"transform":[{"filter":"datum.p=='SM' && datum.s=='p10'"}],"mark":{"type":"point","shape":"square","filled":true,"fill":"#111","stroke":"#111","strokeWidth":0.5,"size":75,"opacity":1},"encoding":{"x":{"field":"x","type":"quantitative"},"y":{"field":"v","type":"quantitative","scale":{"domain":[44,46],"nice":false,"zero":false}}}},
    {"transform":[{"filter":"datum.p=='SM' && datum.s=='p5'"}],"mark":{"type":"point","shape":"circle","filled":true,"fill":"#111","stroke":"#111","strokeWidth":0.5,"size":80,"opacity":1},"encoding":{"x":{"field":"x","type":"quantitative"},"y":{"field":"v","type":"quantitative","scale":{"domain":[44,46],"nice":false,"zero":false}}}}
  ]}
 ]},
 {"width":240,"height":234,"resolve":{"scale":{"y":"independent"},"axis":{"x":"independent"}},"layer":[
  {"layer":[
    {"transform":[{"filter":"datum.p=='SC' && substring(datum.s,0,1)=='a'"}],"mark":{"type":"line","stroke":"#707070","strokeWidth":1},
     "encoding":{"x":{"field":"x","type":"quantitative","scale":{"domain":[-0.545,0.545],"nice":false,"zero":false},"axis":{"orient":"bottom","values":[-0.5,-0.4,-0.3,-0.2,-0.1,0,0.1,0.2,0.3,0.4,0.5],"labels":false,"tickSize":-7,"title":null,"minExtent":0}},
      "y":{"field":"v","type":"quantitative","scale":{"domain":[0.6,0.9],"nice":false,"zero":false},"axis":{"orient":"left","values":[0.6,0.7,0.8,0.9],"labels":false,"tickSize":-6,"title":null,"minExtent":0}},
      "detail":{"field":"s","type":"nominal"}}},
    {"transform":[{"filter":"datum.p=='SC' && datum.s=='a20'"}],"mark":{"type":"point","shape":"diamond","filled":true,"fill":"white","stroke":"#8f8f8f","strokeWidth":1,"size":60,"opacity":1},"encoding":{"x":{"field":"x","type":"quantitative"},"y":{"field":"v","type":"quantitative","scale":{"domain":[0.6,0.9],"nice":false,"zero":false}}}},
    {"transform":[{"filter":"datum.p=='SC' && datum.s=='a15'"}],"mark":{"type":"point","shape":"triangle-up","filled":true,"fill":"white","stroke":"#8f8f8f","strokeWidth":1,"size":55,"opacity":1},"encoding":{"x":{"field":"x","type":"quantitative"},"y":{"field":"v","type":"quantitative","scale":{"domain":[0.6,0.9],"nice":false,"zero":false}}}},
    {"transform":[{"filter":"datum.p=='SC' && datum.s=='a10'"}],"mark":{"type":"point","shape":"square","filled":true,"fill":"white","stroke":"#8f8f8f","strokeWidth":1,"size":55,"opacity":1},"encoding":{"x":{"field":"x","type":"quantitative"},"y":{"field":"v","type":"quantitative","scale":{"domain":[0.6,0.9],"nice":false,"zero":false}}}},
    {"transform":[{"filter":"datum.p=='SC' && datum.s=='a5'"}],"mark":{"type":"point","shape":"circle","filled":true,"fill":"white","stroke":"#8f8f8f","strokeWidth":1,"size":55,"opacity":1},"encoding":{"x":{"field":"x","type":"quantitative"},"y":{"field":"v","type":"quantitative","scale":{"domain":[0.6,0.9],"nice":false,"zero":false}}}},
    {"data":{"values":[{}]},"mark":{"type":"text","align":"left","baseline":"alphabetic","font":"Liberation Sans","fontSize":16,"color":"#222"},"encoding":{"x":{"datum":-0.483,"type":"quantitative"},"y":{"datum":0.874,"type":"quantitative"},"text":{"value":"Sack paper CD specimen"}}},
    {"data":{"values":[{}]},"mark":{"type":"text","align":"left","baseline":"alphabetic","font":"Liberation Sans","fontSize":16,"lineHeight":21,"color":"#222"},"encoding":{"x":{"datum":-0.35,"type":"quantitative"},"y":{"datum":0.642,"type":"quantitative"},"text":{"value":["α=1.74 for c=0 mm","φ=44.3° for c=0 mm"]}}}
  ]},
  {"layer":[
    {"transform":[{"filter":"datum.p=='SC' && substring(datum.s,0,1)=='p'"}],"mark":{"type":"line","stroke":"#111","strokeWidth":1.2},
     "encoding":{"x":{"field":"x","type":"quantitative","axis":{"orient":"bottom","values":[-0.4,-0.2,0,0.2,0.4],"ticks":false,"labelPadding":5,"labelExpr":"replace(datum.label,'−','-')","title":"x/c","titlePadding":5}},
      "y":{"field":"v","type":"quantitative","scale":{"domain":[44,46],"nice":false,"zero":false},"axis":{"orient":"right","values":[44,44.5,45,45.5,46],"format":".1f","tickSize":4,"labelPadding":2,"title":"Principal stress angle φ (°)","titleAngle":270,"titleBaseline":"top","titlePadding":12}},
      "detail":{"field":"s","type":"nominal"}}},
    {"transform":[{"filter":"datum.p=='SC' && datum.s=='p10'"}],"mark":{"type":"point","shape":"square","filled":true,"fill":"#111","stroke":"#111","strokeWidth":0.5,"size":75,"opacity":1},"encoding":{"x":{"field":"x","type":"quantitative"},"y":{"field":"v","type":"quantitative","scale":{"domain":[44,46],"nice":false,"zero":false}}}}
  ]}
 ]}
]}
]}
]
}
